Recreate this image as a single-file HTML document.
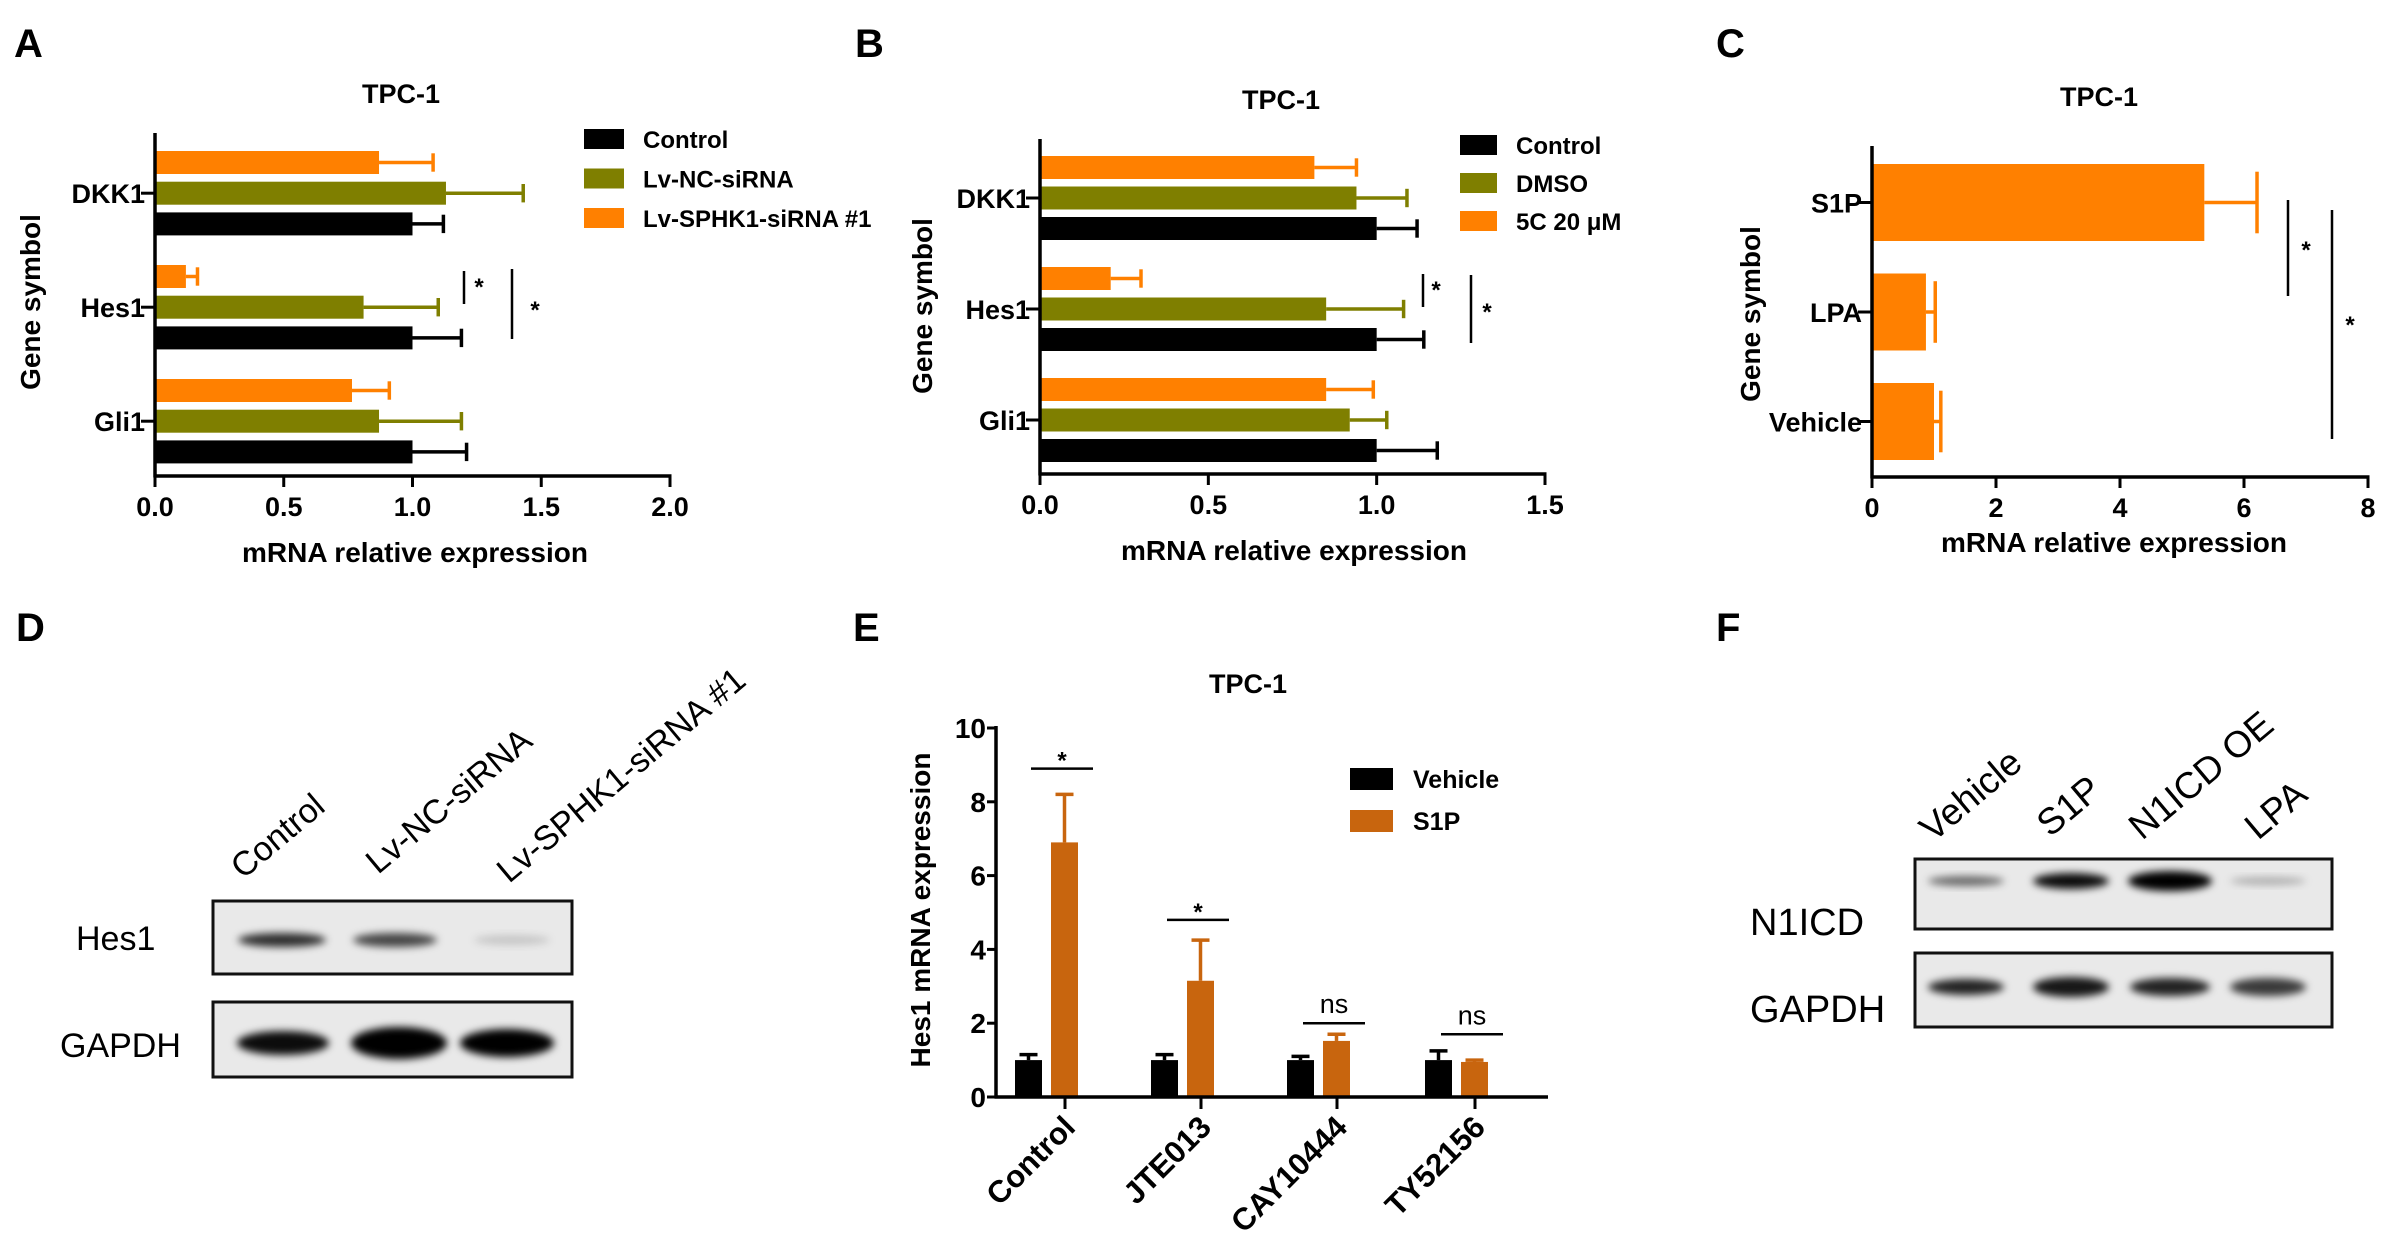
<!DOCTYPE html>
<html><head><meta charset="utf-8"><style>
html,body{margin:0;padding:0;background:#fff;}
svg{display:block;font-family:"Liberation Sans",Arial,sans-serif;}
</style></head><body>
<svg id="fig" width="2386" height="1246" viewBox="0 0 2386 1246" xmlns="http://www.w3.org/2000/svg">
<defs>
<filter id="blur" x="-20%" y="-60%" width="140%" height="220%"><feGaussianBlur stdDeviation="4"/></filter>
</defs>
<g id="root"></g>
</svg>
<script>
// ---------- Panel A data ----------
const aCategories = ["DKK1","Hes1","Gli1"];
const aSeriesNames = ["Control","Lv-NC-siRNA","Lv-SPHK1-siRNA #1"];
const aControl = [1.0, 1.0, 1.0];
const aControlErr = [1.12, 1.19, 1.21];
const aNC = [1.13, 0.81, 0.87];
const aNCErr = [1.43, 1.10, 1.19];
const aSi = [0.87, 0.12, 0.765];
const aSiErr = [1.08, 0.165, 0.91];
const aTicks = ["0.0","0.5","1.0","1.5","2.0"];
const aTickVals = [0, 0.5, 1, 1.5, 2];
// ---------- Panel B data ----------
const bCategories = ["DKK1","Hes1","Gli1"];
const bSeriesNames = ["Control","DMSO","5C 20 μM"];
const bControl = [1.0, 1.0, 1.0];
const bControlErr = [1.12, 1.14, 1.18];
const bDMSO = [0.94, 0.85, 0.92];
const bDMSOErr = [1.09, 1.08, 1.03];
const b5C = [0.815, 0.21, 0.85];
const b5CErr = [0.94, 0.30, 0.99];
const bTicks = ["0.0","0.5","1.0","1.5"];
const bTickVals = [0, 0.5, 1, 1.5];
// ---------- Panel C data ----------
const cCategories = ["S1P","LPA","Vehicle"];
const cValues = [5.36, 0.87, 1.0];
const cErr = [6.21, 1.02, 1.11];
const cTicks = ["0","2","4","6","8"];
const cTickVals = [0, 2, 4, 6, 8];
// ---------- Panel E data ----------
const eCategories = ["Control","JTE013","CAY10444","TY52156"];
const eVehicle = [1.0, 1.0, 1.0, 1.0];
const eVehicleErr = [1.15, 1.15, 1.1, 1.25];
const eS1P = [6.9, 3.15, 1.52, 0.95];
const eS1PErr = [8.2, 4.25, 1.7, 1.0];
const eSig = ["*","*","ns","ns"];
const eSigLevel = [8.9, 4.8, 2.0, 1.7];
const eTicks = ["0","2","4","6","8","10"];
const eTickVals = [0, 2, 4, 6, 8, 10];

const NS = "http://www.w3.org/2000/svg";
const root = document.getElementById('root');
function mk(tag, attrs, parent, text){
  const el = document.createElementNS(NS, tag);
  for (const k in attrs) el.setAttribute(k, attrs[k]);
  if (text !== undefined) el.textContent = text;
  (parent||root).appendChild(el);
  return el;
}
function line(x1,y1,x2,y2,c,w,p){return mk('line',{x1:x1,y1:y1,x2:x2,y2:y2,stroke:c||'#000','stroke-width':w||3},p);}

const BLACK="#000", OLIVE="#7f7f00", ORANGE="#ff8000", EOR="#c8650e";

[["A",14,57],["B",855,57],["C",1716,57],["D",16,641],["E",853,641],["F",1716,641]].forEach(l=>{
  const t = mk('text',{x:l[1],y:l[2],'font-size':40,'font-weight':'bold'},root,l[0]);
  
  
});

function hbar(cfg){
  const g = mk('g',{});
  
  
  const sx = v => cfg.x0 + (v - cfg.min)/(cfg.max-cfg.min)*(cfg.x1-cfg.x0);
  const tt = mk('text',{x:cfg.titleX,y:cfg.titleY,'font-size':27,'font-weight':'bold','text-anchor':'middle'},g,'TPC-1');
  
  
  cfg.categories.forEach((cat,ci)=>{
    const gTop = cfg.top + ci*cfg.groupStep;
    cfg.series.forEach((s,si)=>{
      const y = gTop + si*cfg.barStep;
      const v = s.vals[ci], e = s.errs[ci];
      const r = mk('rect',{x:sx(0),y:y,width:sx(v)-sx(0),height:cfg.barH,fill:s.color},g);
      
      
      const cy = y + cfg.barH/2;
      line(sx(v),cy,sx(e),cy,s.color,3.5,g);
      line(sx(e),cy-cfg.barH*0.4,sx(e),cy+cfg.barH*0.4,s.color,3.5,g);
    });
    const cyc = gTop + (cfg.series.length*cfg.barStep - (cfg.barStep-cfg.barH))/2;
    line(cfg.x0-14,cyc,cfg.x0,cyc,'#000',3,g);
    const lt = mk('text',{x:cfg.x0-10,y:cyc+10,'font-size':27,'font-weight':'bold','text-anchor':'end'},g,cat);
    
    
  });
  line(cfg.x0,cfg.yTop,cfg.x0,cfg.yAxis+1.5,'#000',3.5,g);
  line(cfg.x0-1.5,cfg.yAxis,cfg.x1+1.5,cfg.yAxis,'#000',3.5,g);
  cfg.tickVals.forEach((tv,i)=>{
    line(sx(tv),cfg.yAxis,sx(tv),cfg.yAxis+11,'#000',3,g);
    const t = mk('text',{x:sx(tv),y:cfg.yAxis+40,'font-size':27,'font-weight':'bold','text-anchor':'middle'},g,cfg.ticks[i]);
    
    
  });
  const xt = mk('text',{x:cfg.xTitleX,y:cfg.xTitleY,'font-size':28,'font-weight':'bold','text-anchor':'middle'},g,'mRNA relative expression');
  
  
  const yt = mk('text',{x:0,y:0,'font-size':28,'font-weight':'bold','text-anchor':'middle',transform:`translate(${cfg.yTitleX},${cfg.yTitleY}) rotate(-90)`},g,'Gene symbol');
  
  
  (cfg.sig||[]).forEach(s=>{
    line(s.x,s.y1,s.x,s.y2,'#000',2.5,g);
    const st = mk('text',{x:s.sx,y:s.sy,'font-size':24,'font-weight':'bold','text-anchor':'middle'},g,'*');
    
    
  });
  if (cfg.legend){
    cfg.legend.forEach((l,i)=>{
      const y = cfg.legendY + i*cfg.legendStep;
      const r = mk('rect',{x:cfg.legendX,y:y,width:cfg.legendW,height:20,fill:l.color},g);
      
      
      const t = mk('text',{x:cfg.legendX+cfg.legendW+19,y:y+19,'font-size':24,'font-weight':'bold'},g,l.name);
      
      
    });
  }
}

hbar({name:'panel-a-chart',categories:aCategories,min:0,max:2,x0:155,x1:670,yTop:133,yAxis:476,
  top:151,barH:23,barStep:30.7,groupStep:114,
  series:[{key:'siRNA',vals:aSi,errs:aSiErr,color:ORANGE},{key:'nc',vals:aNC,errs:aNCErr,color:OLIVE},{key:'control',vals:aControl,errs:aControlErr,color:BLACK}],
  ticks:aTicks,tickVals:aTickVals,titleX:401,titleY:103,xTitleX:415,xTitleY:562,yTitleX:40,yTitleY:302,
  sig:[{x:464,y1:271,y2:304,sx:479,sy:295},{x:512,y1:269,y2:339,sx:535,sy:318}],
  legend:[{name:aSeriesNames[0],color:BLACK},{name:aSeriesNames[1],color:OLIVE},{name:aSeriesNames[2],color:ORANGE}],
  legendX:584,legendY:129,legendStep:39.5,legendW:40});

hbar({name:'panel-b-chart',categories:bCategories,min:0,max:1.5,x0:1040,x1:1545,yTop:139,yAxis:474,
  top:156,barH:23,barStep:30.5,groupStep:111,
  series:[{key:'5c',vals:b5C,errs:b5CErr,color:ORANGE},{key:'dmso',vals:bDMSO,errs:bDMSOErr,color:OLIVE},{key:'control',vals:bControl,errs:bControlErr,color:BLACK}],
  ticks:bTicks,tickVals:bTickVals,titleX:1281,titleY:109,xTitleX:1294,xTitleY:560,yTitleX:932,yTitleY:306,
  sig:[{x:1423,y1:274,y2:307,sx:1436,sy:298},{x:1471,y1:275,y2:343,sx:1487,sy:320}],
  legend:[{name:bSeriesNames[0],color:BLACK},{name:bSeriesNames[1],color:OLIVE},{name:bSeriesNames[2],color:ORANGE}],
  legendX:1460,legendY:135,legendStep:38,legendW:37});

hbar({name:'panel-c-chart',categories:cCategories,min:0,max:8,x0:1872,x1:2368,yTop:146,yAxis:477,
  top:164,barH:77,barStep:0,groupStep:109.5,
  series:[{key:'mrna',vals:cValues,errs:cErr,color:ORANGE}],
  ticks:cTicks,tickVals:cTickVals,titleX:2099,titleY:106,xTitleX:2114,xTitleY:552,yTitleX:1760,yTitleY:314,
  sig:[{x:2288,y1:200,y2:296,sx:2306,sy:258},{x:2332,y1:210,y2:439,sx:2350,sy:333}]});

(function(){
  const g = mk('g',{});
  
  
  const x0=996, x1=1548, y0=1097, y10=728;
  const sy = v => y0 - v/10*(y0-y10);
  const tickX = [1065,1201,1337,1475];
  const t = mk('text',{x:1248,y:693,'font-size':27,'font-weight':'bold','text-anchor':'middle'},g,'TPC-1');
  
  
  eCategories.forEach((cat,i)=>{
    const cx = tickX[i];
    [[eVehicle,eVehicleErr,BLACK,-50,'vehicle'],[eS1P,eS1PErr,EOR,-14,'s1p']].forEach(s=>{
      const v=s[0][i], e=s[1][i];
      const r = mk('rect',{x:cx+s[3],y:sy(v),width:27,height:sy(0)-sy(v),fill:s[2]},g);
      
      
      const bx = cx+s[3]+13.5;
      line(bx,sy(v),bx,sy(e),s[2],3.5,g);
      line(bx-9,sy(e),bx+9,sy(e),s[2],3.5,g);
    });
    line(cx,y0,cx,y0+12,'#000',3,g);
    const lb = mk('text',{x:0,y:0,'font-size':31,'font-weight':'bold','text-anchor':'end',transform:`translate(${cx+12},${y0+32}) rotate(-45)`},g,cat);
    
    
    const ly = sy(eSigLevel[i]);
    line(cx-34,ly,cx+28,ly,'#000',2.5,g);
    const st = mk('text',{x:cx-3,y:ly-(eSig[i]==='*'?0:10),'font-size':eSig[i]==='*'?24:27,'text-anchor':'middle','font-weight':eSig[i]==='*'?'bold':'normal'},g,eSig[i]);
    
    
  });
  line(x0,y10-2,x0,y0+1.5,'#000',3.5,g);
  line(x0-1.5,y0,x1,y0,'#000',3.5,g);
  eTickVals.forEach((tv,i)=>{
    line(x0-9,sy(tv),x0,sy(tv),'#000',3,g);
    const tl = mk('text',{x:x0-10,y:sy(tv)+10,'font-size':28,'font-weight':'bold','text-anchor':'end'},g,eTicks[i]);
    
    
  });
  const yt = mk('text',{x:0,y:0,'font-size':28,'font-weight':'bold','text-anchor':'middle',transform:'translate(930,910) rotate(-90)'},g,'Hes1 mRNA expression');
  
  
  [["Vehicle",BLACK,768],["S1P",EOR,810]].forEach(l=>{
    const r = mk('rect',{x:1350,y:l[2],width:43,height:22,fill:l[1]},g);
    
    
    const tx = mk('text',{x:1413,y:l[2]+20,'font-size':25,'font-weight':'bold'},g,l[0]);
    
    
  });
})();

function blot(cfg){
  const g = mk('g',{});
  
  
  cfg.lanes.forEach(l=>{
    const t = mk('text',{x:0,y:0,'font-size':cfg.laneFont,transform:`translate(${l[1]},${l[2]}) rotate(-40)`},g,l[0]);
    
    
  });
  cfg.rows.forEach(row=>{
    const r = mk('rect',{x:cfg.x,y:row.y,width:cfg.w,height:row.h,fill:'#e9e9e9',stroke:'#111','stroke-width':3},g);
    
    
    row.bands.forEach(b=>{
      const e = mk('ellipse',{cx:b[0],cy:row.by,rx:b[1],ry:b[2],fill:'#000','fill-opacity':b[3],filter:'url(#blur)'},g);
      
      
    });
    const t = mk('text',{x:row.lx,y:row.ly,'font-size':cfg.rowFont},g,row.label);
    
    
  });
}
blot({name:'panel-d-blot',x:213,w:359,laneFont:34,rowFont:34,
  lanes:[["Control",243,880],["Lv-NC-siRNA",378,875],["Lv-SPHK1-siRNA #1",509,884]],
  rows:[{label:'Hes1',y:901,h:73,by:940,lx:76,ly:950,bands:[[282,44,7,0.8],[395,42,7,0.7],[512,38,5,0.15]]},
        {label:'GAPDH',y:1002,h:75,by:1043,lx:60,ly:1057,bands:[[283,46,12,0.95],[399,48,16,1],[507,47,14,1]]}]});
blot({name:'panel-f-blot',x:1915,w:417,laneFont:37,rowFont:38,
  lanes:[["Vehicle",1933,843],["S1P",2050,838],["N1ICD OE",2142,841],["LPA",2258,841]],
  rows:[{label:'N1ICD',y:859,h:70,by:881,lx:1750,ly:935,bands:[[1966,38,5,0.55],[2071,38,8,0.95],[2170,42,10,1],[2268,38,4,0.25]]},
        {label:'GAPDH',y:953,h:74,by:987,lx:1750,ly:1022,bands:[[1966,38,8,0.85],[2071,38,10,0.9],[2170,40,9,0.85],[2268,38,9,0.75]]}]});
</script>
</body></html>
